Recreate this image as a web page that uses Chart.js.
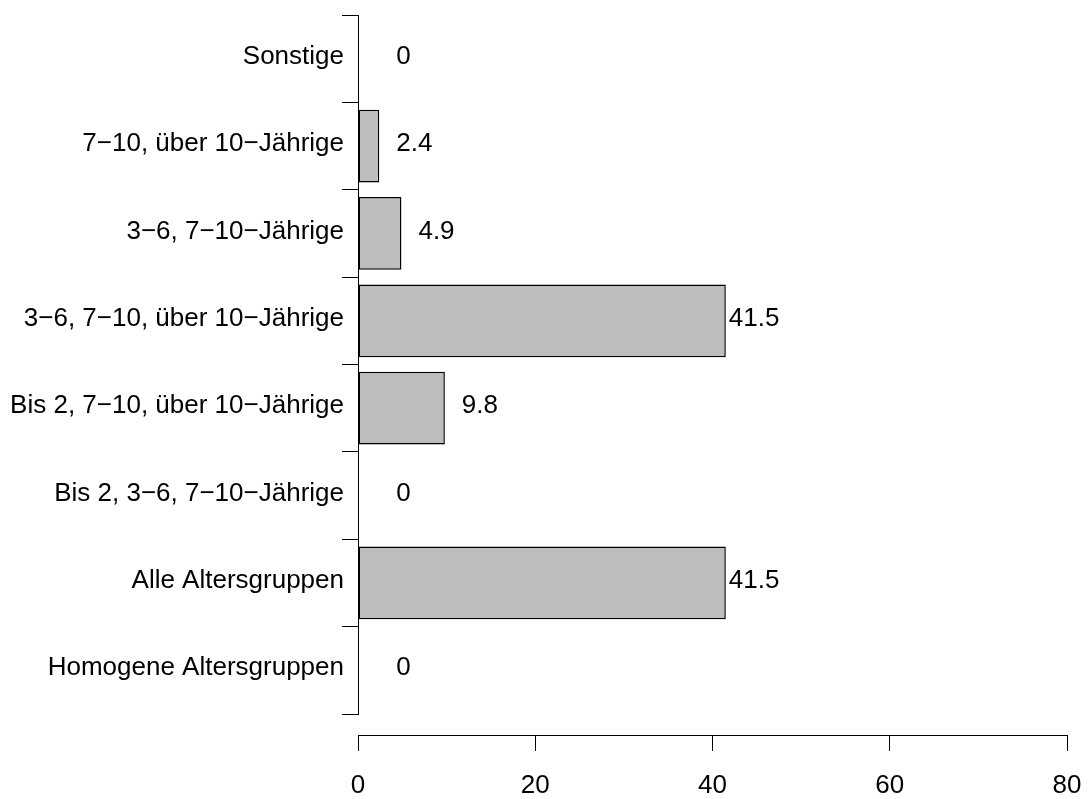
<!DOCTYPE html>
<html>
<head>
<meta charset="utf-8">
<title>Altersgruppen</title>
<script src="https://cdn.jsdelivr.net/npm/chart.js@4.4.1/dist/chart.umd.min.js"></script>
<style>
  html, body { margin: 0; padding: 0; background: #fff; }
  canvas { display: block; }
</style>
</head>
<body>
<canvas id="ageChart" width="1089" height="799"></canvas>
<script>
// categories from top to bottom, as in the picture
var categories = [
    "Sonstige",
    "7\u221210, über 10\u2212Jährige",
    "3\u22126, 7\u221210\u2212Jährige",
    "3\u22126, 7\u221210, über 10\u2212Jährige",
    "Bis 2, 7\u221210, über 10\u2212Jährige",
    "Bis 2, 3\u22126, 7\u221210\u2212Jährige",
    "Alle Altersgruppen",
    "Homogene Altersgruppen"
];
var percentages = [0, 2.4, 4.9, 41.5, 9.8, 0, 41.5, 0];
var xTicks = [0, 20, 40, 60, 80];

var FONT = "'Liberation Sans', Arial, Helvetica, sans-serif";

/*
 * Writes the value to the right of each bar.
 * Short bars get a little gap, long ones have the number right at the end.
 */
var barLabels = {
    id: "barLabels",
    afterDatasetsDraw: function(chart)
    {
        var ctx = chart.ctx;
        var xScale = chart.scales.x;
        var meta = chart.getDatasetMeta(0);

        ctx.save();
        ctx.font = "26px " + FONT;
        ctx.fillStyle = "#000";
        ctx.textAlign = "left";
        ctx.textBaseline = "middle";
        meta.data.forEach(function(bar, i) {
            var v = percentages[i];
            var x;
            if (v > 20) {
                x = xScale.getPixelForValue(v) + 3;
            } else {
                x = xScale.getPixelForValue(Math.max(v, 2.4)) + 17;
            }
            ctx.fillText(String(v), x, bar.y - 2);
        });
        ctx.restore();
    }
};

var ctx = document.getElementById("ageChart").getContext("2d");

var dat = {
    labels: categories,
    datasets: [
        {
            data: percentages,
            backgroundColor: "#bebebe",
            borderColor: "#000",
            borderWidth: 1.5,
            borderSkipped: false,
            barPercentage: 0.833,
            categoryPercentage: 1
        }
    ]
};

var options = {
    indexAxis: "y",
    responsive: false,
    animation: false,
    devicePixelRatio: 1,
    layout: {
        padding: { left: 0, top: 15, right: 22, bottom: 85 }
    },
    plugins: {
        legend: { display: false },
        tooltip: { enabled: false }
    },
    scales: {
        y: {
            type: "category",
            offset: true,
            afterFit: function(scale) { scale.width = 358; },
            grid: {
                offset: true,
                drawOnChartArea: false,
                drawTicks: true,
                tickLength: 16,
                color: "#000"
            },
            border: { display: true, color: "#000", width: 1 },
            ticks: {
                color: "#000",
                padding: -2,
                labelOffset: -2,
                font: { family: FONT, size: 26, lineHeight: 1 }
            }
        },
        x: {
            type: "linear",
            // the axis sits a bit below the lowest bar, like in R
            position: { y: categories.length - 0.5 + 0.248 },
            min: xTicks[0],
            max: xTicks[xTicks.length - 1],
            afterBuildTicks: function(scale) {
                scale.ticks = xTicks.map(function(t) { return { value: t }; });
            },
            // the end labels may hang over, there is room for them
            afterFit: function(scale) {
                scale.paddingLeft = 0;
                scale.paddingRight = 0;
            },
            grid: {
                drawOnChartArea: false,
                drawTicks: true,
                tickLength: 15,
                color: "#000"
            },
            border: { display: true, color: "#000", width: 1 },
            ticks: {
                color: "#000",
                padding: 20,
                maxRotation: 0,
                font: { family: FONT, size: 26 }
            }
        }
    }
};

var myChart = new Chart(ctx, {
    type: "bar",
    data: dat,
    options: options,
    plugins: [barLabels]
});
</script>
</body>
</html>
